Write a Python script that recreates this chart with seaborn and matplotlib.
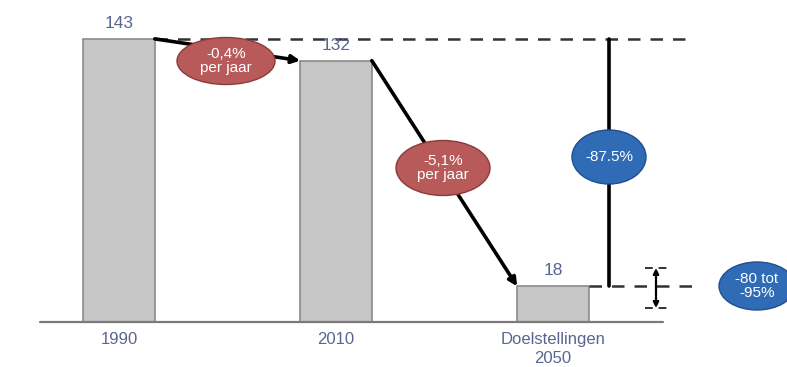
import matplotlib
matplotlib.use("Agg")
import matplotlib.pyplot as plt
from matplotlib.patches import Ellipse
import seaborn as sns
import pandas as pd

categories = ["1990", "2010", "Doelstellingen\n2050"]
values = [143, 132, 18]
rate_labels = ["-0,4%\nper jaar", "-5,1%\nper jaar"]
total_label = "-87.5%"
range_label = "-80 tot\n-95%"

sns.set_theme(style="white")
plt.rcParams['font.family'] = ['Liberation Sans', 'DejaVu Sans']

W, H = 787, 367
fig = plt.figure(figsize=(W / 100, H / 100), dpi=100)
ax = fig.add_axes([0, 0, 1, 1])

# pixel helpers for layout (x unit = 217 px, y unit = 1.98 px)
X0, XU, Y0, YU = 119, 217.0, 322, 1.98
def px(x):
    return (x - X0) / XU
def py(y):
    return (Y0 - y) / YU

df = pd.DataFrame({"cat": categories, "val": values})
sns.barplot(data=df, x="cat", y="val", ax=ax, color="#c6c6c6", width=0.33,
            edgecolor="#8a8a8a", linewidth=1.2, saturation=1)

ax.set_xlim(px(0), px(W))
ax.set_ylim(py(H), py(0))
ax.axis("off")

txtc = "#5a6690"
bw = 0.33
# baseline
ax.plot([px(40), px(663)], [0, 0], color="#7a7a7a", lw=1.6, zorder=3)

# value labels and category labels
for i, (c, v) in enumerate(zip(categories, values)):
    ax.text(i, v + 4, str(v), ha="center", va="bottom", fontsize=12.5, color=txtc)
    ax.text(i, py(332), c, ha="center", va="top", fontsize=12, color=txtc, linespacing=1.3)

# dashed reference lines
ax.plot([0 + bw / 2, px(693)], [values[0], values[0]], color="#333333", lw=1.8,
        dashes=(5, 4), zorder=1)
ax.plot([2 + bw / 2, px(693)], [values[2], values[2]], color="#333333", lw=1.8,
        dashes=(5, 4), zorder=1)

# arrows between bars
for i in range(2):
    ax.annotate("", xy=(i + 1 - bw / 2, values[i + 1]), xytext=(i + bw / 2, values[i]),
                arrowprops=dict(arrowstyle="-|>", color="black", lw=2.6,
                                mutation_scale=12, shrinkA=0, shrinkB=0), zorder=4)

# vertical total line
vx = px(609)
ax.plot([vx, vx], [values[0], values[2]], color="black", lw=2.6, zorder=4)

# small double arrow for range
dx = px(656)
ax.annotate("", xy=(dx, py(308)), xytext=(dx, py(268)),
            arrowprops=dict(arrowstyle="<|-|>", color="black", lw=1.6,
                            mutation_scale=8, shrinkA=0, shrinkB=0), zorder=4)
for yy in (268, 308):
    ax.plot([px(645), px(668)], [py(yy), py(yy)], color="#333333", lw=1.4,
            dashes=(4, 3), zorder=4)

red = "#b85a5a"
blue = "#2f6cb5"
def ell(cxp, cyp, wp, hp, color, text, fs):
    e = Ellipse((px(cxp), py(cyp)), wp / XU, hp / YU, facecolor=color,
                edgecolor="#8c3a3a" if color == red else "#1f4f8f", lw=1, zorder=5)
    ax.add_patch(e)
    ax.text(px(cxp), py(cyp), text, ha="center", va="center", color="white",
            fontsize=fs, linespacing=0.95, zorder=6)

ell(226, 61, 98, 47, red, rate_labels[0], 11)
ell(443, 168, 94, 55, red, rate_labels[1], 11)
ell(609, 157, 74, 54, blue, total_label, 11)
ell(757, 286, 76, 48, blue, range_label, 11)

fig.savefig("out.png", dpi=100)
